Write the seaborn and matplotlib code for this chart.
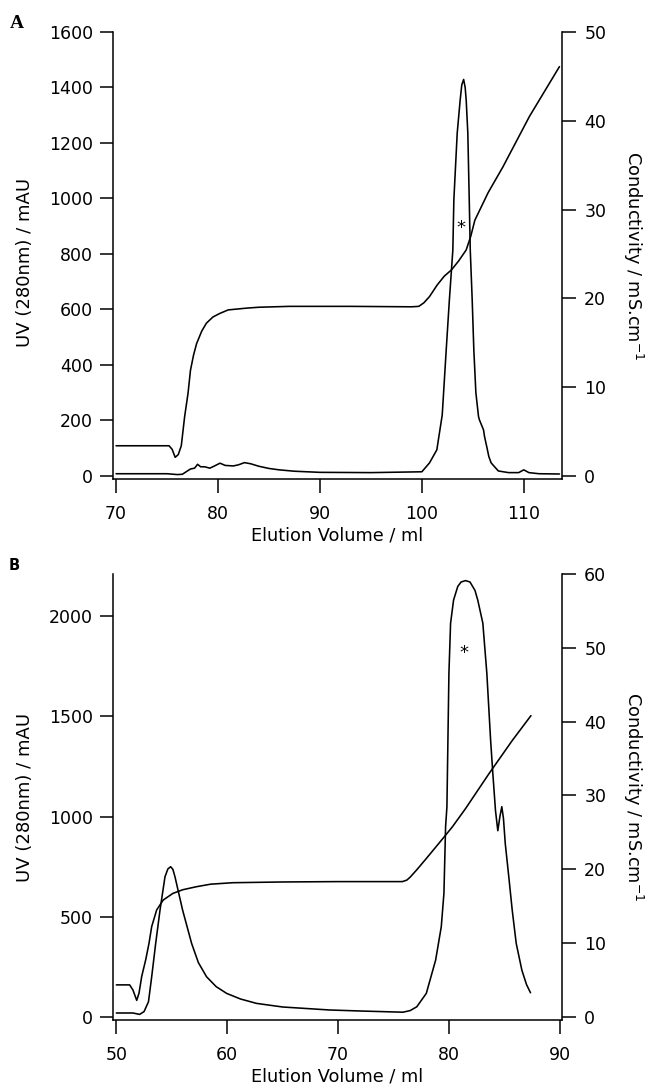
import matplotlib
matplotlib.use("Agg")
import matplotlib.pyplot as plt
import seaborn as sns
import pandas as pd

# ---- panel A: UV trace (mAU) ----
a_uv_ml = [70, 75, 76, 76.5, 77.0, 77.3, 77.7, 78.0, 78.3, 78.7, 79.2, 79.6, 80.2, 80.7,
           81.5, 82.0, 82.6, 83.2, 84.0, 85.0, 86.0, 87.5, 90, 95, 100, 100.75, 101.47,
           102.0, 102.39, 102.7, 103.04, 103.14, 103.47, 103.76, 103.92, 104.1, 104.25,
           104.35, 104.51, 104.65, 104.75, 104.94, 105.1, 105.3, 105.56, 105.65, 106.05,
           106.15, 106.4, 106.57, 106.8, 107.5, 108.5, 109.5, 110.0, 110.5, 111.5, 113.5]
a_uv_mau = [8, 8, 5, 6, 18, 25, 28, 42, 33, 33, 28, 35, 46, 38,
            36, 40, 48, 44, 35, 27, 22, 17, 13, 12, 15, 47, 94,
            220, 454, 634, 814, 995, 1236, 1355, 1410, 1429, 1400,
            1355, 1236, 995, 814, 634, 454, 300, 214, 202, 166,
            142, 100, 70, 47, 18, 12, 12, 22, 12, 8, 7]

# ---- panel A: conductivity (mS/cm) ----
a_cond_ml = [70, 75.2, 75.5, 75.8, 76.1, 76.4, 76.73, 77.06, 77.3, 77.6, 77.9, 78.4, 78.86,
             79.5, 80.17, 81, 82.8, 84, 87, 93, 99, 99.7, 100.2, 100.75, 101.5, 102.2,
             102.9, 103.6, 104.35, 104.8, 105.2, 106.5, 107.95, 110.56, 113.5]
a_cond_ms = [3.4, 3.4, 3.0, 2.1, 2.4, 3.4, 6.7, 9.3, 11.9, 13.6, 14.9, 16.3, 17.2,
             17.9, 18.3, 18.7, 18.9, 19.0, 19.1, 19.1, 19.05, 19.1, 19.5, 20.2, 21.5, 22.5,
             23.2, 24.2, 25.45, 27.0, 28.8, 31.9, 34.8, 40.5, 46.1]

# ---- panel B: UV trace (mAU) ----
b_uv_ml = [50, 51.5, 52.1, 52.5, 52.9, 53.19, 53.55, 53.94, 54.39, 54.65, 54.9, 55.1, 55.29,
           55.98, 56.79, 57.4, 58.14, 59.0, 59.95, 61.2, 62.65, 65, 69.25, 72, 75.86, 76.5,
           77.1, 77.96, 78.8, 79.31, 79.55, 79.7, 79.82, 79.91, 80.0, 80.15, 80.42, 80.8,
           81.1, 81.5, 81.9, 82.35, 82.6, 83.06, 83.42, 83.76, 83.96, 84.2, 84.41, 84.6,
           84.77, 84.92, 85.08, 85.4, 85.71, 86.07, 86.58, 87.0, 87.36]
b_uv_mau = [18, 18, 11, 25, 74, 199, 366, 532, 699, 738, 749, 736, 699,
            532, 366, 270, 199, 150, 116, 88, 66, 48, 33, 28, 22, 30,
            49, 116, 282, 449, 616, 949, 1049, 1382, 1716, 1966, 2082, 2150,
            2172, 2179, 2172, 2130, 2082, 1966, 1716, 1382, 1216, 1030, 929, 1000,
            1049, 990, 866, 699, 532, 366, 232, 160, 119]

# ---- panel B: conductivity (mS/cm) ----
b_cond_ml = [50, 51.2, 51.5, 51.84, 52.05, 52.29, 52.65, 52.95, 53.19, 53.64, 54.23, 55.1, 56,
             57.2, 58.5, 60.5, 65, 70, 75.8, 76.2, 76.5, 77.1, 78, 79.1, 80.3, 81.5, 83.6,
             85.7, 87.4]
b_cond_ms = [4.3, 4.3, 3.6, 2.2, 3.2, 5.45, 7.7, 9.96, 12.2, 14.46, 15.8, 16.7, 17.2,
             17.6, 17.95, 18.15, 18.25, 18.3, 18.3, 18.5, 18.9, 19.9, 21.5, 23.5, 25.7, 28.2,
             32.9, 37.4, 40.8]

sns.set_theme(style="ticks")
plt.rcParams['font.family'] = ['DejaVu Sans']
plt.rcParams['text.color'] = 'black'
plt.rcParams['axes.labelcolor'] = 'black'

W, H = 653, 1088
fig = plt.figure(figsize=(W / 100, H / 100), dpi=100)


def box(left, top, right, bottom):
    return [left / W, 1 - bottom / H, (right - left) / W, (bottom - top) / H]


def style_axes(ax, ax2):
    for a in (ax, ax2):
        a.spines['top'].set_visible(False)
        for s in ('left', 'bottom', 'right'):
            a.spines[s].set_linewidth(1.1)
            a.spines[s].set_color('black')
    ax.spines['right'].set_visible(False)
    ax2.spines['left'].set_visible(False)
    ax2.spines['bottom'].set_visible(False)
    ax.tick_params(axis='y', direction='out', length=9.5, width=1.1, pad=5,
                   labelsize=12.5, colors='black')
    ax.tick_params(axis='x', direction='out', length=10, width=1.1, pad=9,
                   labelsize=12.5, colors='black')
    ax2.tick_params(axis='y', direction='out', length=10, width=1.1, pad=6,
                    labelsize=12.5, colors='black')
    ax.set_xlabel('Elution Volume / ml', fontsize=12.8, labelpad=2)
    ax.set_ylabel('UV (280nm) / mAU', fontsize=13, labelpad=8)
    ax2.set_ylabel(r'Conductivity / mS.cm$^{\mathregular{-1}}$', fontsize=12.8,
                   rotation=270, labelpad=28)


def panel(rect, uv_x, uv_y, c_x, c_y, xlim, ylim, ylim2, xticks, yticks, yticks2):
    ax = fig.add_axes(rect)
    ax2 = ax.twinx()
    uv = pd.DataFrame({'ml': uv_x, 'mAU': uv_y})
    cond = pd.DataFrame({'ml': c_x, 'mS': c_y})
    sns.lineplot(data=uv, x='ml', y='mAU', ax=ax, color='black', lw=1.15,
                 sort=False, estimator=None)
    sns.lineplot(data=cond, x='ml', y='mS', ax=ax2, color='black', lw=1.15,
                 sort=False, estimator=None)
    ax.set_xlim(*xlim)
    ax.set_ylim(*ylim)
    ax2.set_ylim(*ylim2)
    ax.set_xticks(xticks)
    ax.set_yticks(yticks)
    ax2.set_yticks(yticks2)
    style_axes(ax, ax2)
    return ax, ax2


axA, axA2 = panel(box(113, 32, 562, 479), a_uv_ml, a_uv_mau, a_cond_ml, a_cond_ms,
                  (69.7, 113.75), (-11, 1600), (-11 / 32, 50),
                  [70, 80, 90, 100, 110], list(range(0, 1601, 200)), [0, 10, 20, 30, 40, 50])
axA.text(103.86, 895, '*', ha='center', va='center', fontsize=13)
axA.yaxis.set_label_coords(-0.176, 0.485)

axB, axB2 = panel(box(113, 574, 562, 1020), b_uv_ml, b_uv_mau, b_cond_ml, b_cond_ms,
                  (49.7, 90.2), (-17, 2212), (-17 / 36.87, 60),
                  [50, 60, 70, 80, 90], [0, 500, 1000, 1500, 2000], [0, 10, 20, 30, 40, 50, 60])
axB.text(81.4, 1816, '*', ha='center', va='center', fontsize=13)
axB.yaxis.set_label_coords(-0.176, 0.5)

fig.text(17 / W, 1 - 23.5 / H, 'A', family='Liberation Serif', weight='bold',
         fontsize=14, ha='center', va='center')
fig.text(14 / W, 1 - 565 / H, 'B', weight='bold', fontsize=10.5,
         ha='center', va='center')

fig.savefig('out.png', dpi=100)
